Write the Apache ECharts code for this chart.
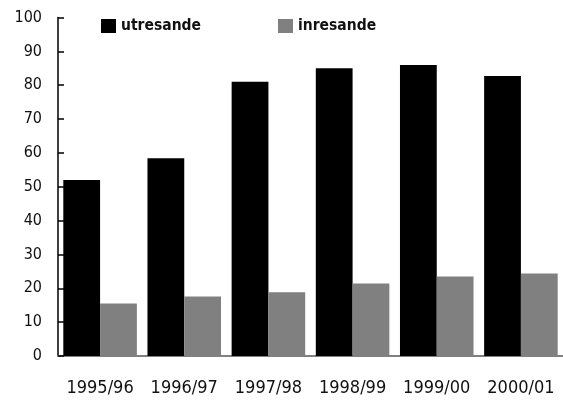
<!DOCTYPE html>
<html>
<head>
<meta charset="utf-8">
<script src="https://cdn.jsdelivr.net/npm/echarts@6/dist/echarts.min.js"></script>
<style>html,body{margin:0;padding:0;background:#fff;}#c{width:563px;height:401px;}</style>
</head>
<body>
<div id="c"></div>
<script>
const categories = ['1995/96', '1996/97', '1997/98', '1998/99', '1999/00', '2000/01'];
const utresande = [52, 58.4, 81, 85, 86, 82.7];
const inresande = [15.5, 17.6, 18.8, 21.4, 23.5, 24.4];
const seriesNames = ['utresande', 'inresande'];

const FONT = '"DejaVu Sans Condensed", "Liberation Sans", sans-serif';
const chart = echarts.init(document.getElementById('c'), null, {renderer: 'canvas'});
chart.setOption({
  animation: false,
  backgroundColor: '#ffffff',
  grid: {left: 58, top: 17.5, right: -8, bottom: 45, containLabel: false},
  legend: {
    left: 101, top: 18, padding: 0, itemWidth: 15, itemHeight: 14, itemGap: 77,
    icon: 'rect',
    data: seriesNames,
    textStyle: {fontFamily: FONT, fontSize: 15.5, fontWeight: 'bold', color: '#111'}
  },
  xAxis: {
    type: 'category',
    data: categories,
    axisLine: {show: true, lineStyle: {color: '#808080', width: 2}},
    axisTick: {show: false},
    axisLabel: {interval: 0, fontFamily: FONT, fontSize: 18, color: '#111', margin: 23}
  },
  yAxis: {
    type: 'value', min: 0, max: 100, interval: 10,
    axisLine: {show: true, lineStyle: {color: '#000', width: 1.5}},
    axisTick: {show: true, inside: true, length: 6, lineStyle: {color: '#000', width: 1.5}},
    splitLine: {show: false},
    axisLabel: {fontFamily: FONT, fontSize: 16, color: '#111', margin: 16}
  },
  series: [
    {name: seriesNames[0], type: 'bar', data: utresande, itemStyle: {color: '#000000'}, barGap: '0%', barCategoryGap: '12.6%'},
    {name: seriesNames[1], type: 'bar', data: inresande, itemStyle: {color: '#808080'}, barGap: '0%', barCategoryGap: '12.6%'}
  ]
});
</script>
</body>
</html>
